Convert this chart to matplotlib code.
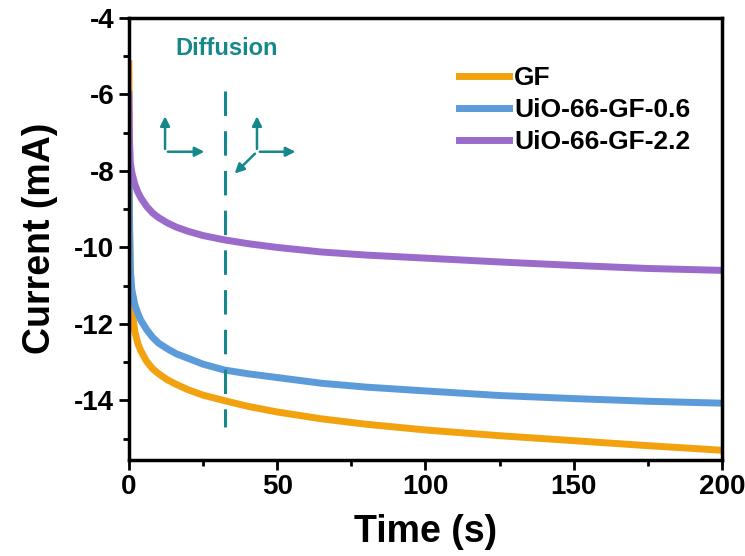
import matplotlib
matplotlib.use("Agg")
import matplotlib.pyplot as plt
from matplotlib.ticker import MultipleLocator

plt.rcParams['font.family'] = ['Liberation Sans', 'DejaVu Sans']
plt.rcParams['font.weight'] = 'bold'
plt.rcParams['axes.labelweight'] = 'bold'
plt.rcParams['axes.unicode_minus'] = False

# values
time_s = [0, 0.2, 0.5, 1, 2, 3, 4, 6, 8, 10, 13, 16, 20, 25, 32, 40, 50, 65, 80,
          100, 125, 150, 175, 200]
gf = [-5.2, -9.0, -10.9, -11.6, -12.2, -12.5, -12.7, -12.98, -13.17, -13.3, -13.46,
      -13.58, -13.72, -13.86, -14.0, -14.15, -14.3, -14.48, -14.62, -14.77, -14.92,
      -15.05, -15.18, -15.3]
uio_06 = [-7.5, -9.5, -10.6, -11.1, -11.5, -11.72, -11.9, -12.15, -12.35, -12.5,
          -12.65, -12.78, -12.9, -13.05, -13.2, -13.3, -13.4, -13.55, -13.65, -13.75,
          -13.87, -13.95, -14.02, -14.07]
uio_22 = [-6.0, -7.2, -7.8, -8.05, -8.35, -8.55, -8.7, -8.93, -9.1, -9.22, -9.36,
          -9.47, -9.58, -9.69, -9.8, -9.9, -10.0, -10.12, -10.2, -10.28, -10.38,
          -10.47, -10.55, -10.6]

series = [("GF", gf, "#F2A20F"),
          ("UiO-66-GF-0.6", uio_06, "#5B9BD9"),
          ("UiO-66-GF-2.2", uio_22, "#9B6BCB")]

teal = "#17888A"

fig = plt.figure(figsize=(7.45, 5.56), dpi=100)
ax = fig.add_axes([0.173, 0.173, 0.796, 0.795])

for name, vals, col in series:
    ax.plot(time_s, vals, color=col, lw=5, label=name)

# dashed divider and diffusion sketch
ax.plot([32.5, 32.5], [-5.9, -14.7], color=teal, lw=2.2, ls=(0, (8, 5)))
ax.text(33, -4.8, "Diffusion", color=teal, fontsize=17, ha='center', va='center')

arr = dict(arrowstyle='-|>', color=teal, lw=1.8, mutation_scale=14)
for ox, oy, tx, ty in [(12.2, -7.5, 12.2, -6.5), (12.2, -7.5, 26.4, -7.5),
                       (43.2, -7.5, 43.2, -6.5), (43.2, -7.5, 57.1, -7.5),
                       (43.2, -7.5, 35.0, -8.12)]:
    ax.annotate("", xy=(tx, ty), xytext=(ox, oy), arrowprops=arr)

ax.set_xlim(0, 200)
ax.set_ylim(-15.55, -4)
ax.xaxis.set_major_locator(MultipleLocator(50))
ax.xaxis.set_minor_locator(MultipleLocator(25))
ax.yaxis.set_major_locator(MultipleLocator(2))
ax.yaxis.set_minor_locator(MultipleLocator(1))
ax.tick_params(which='both', direction='out', width=2, labelsize=20, top=False, right=False)
ax.tick_params(which='major', length=7)
ax.tick_params(which='minor', length=4)
for s in ax.spines.values():
    s.set_linewidth(2.5)

ax.set_xlabel("Time (s)", fontsize=27, labelpad=10)
ax.set_ylabel("Current (mA)", fontsize=27, labelpad=12)

ax.legend(loc='upper left', bbox_to_anchor=(0.556, 0.89), frameon=False, fontsize=19,
          handlelength=1.9, handletextpad=0.2, labelspacing=0.3,
          borderpad=0, borderaxespad=0)

fig.savefig("out.png", dpi=100)
